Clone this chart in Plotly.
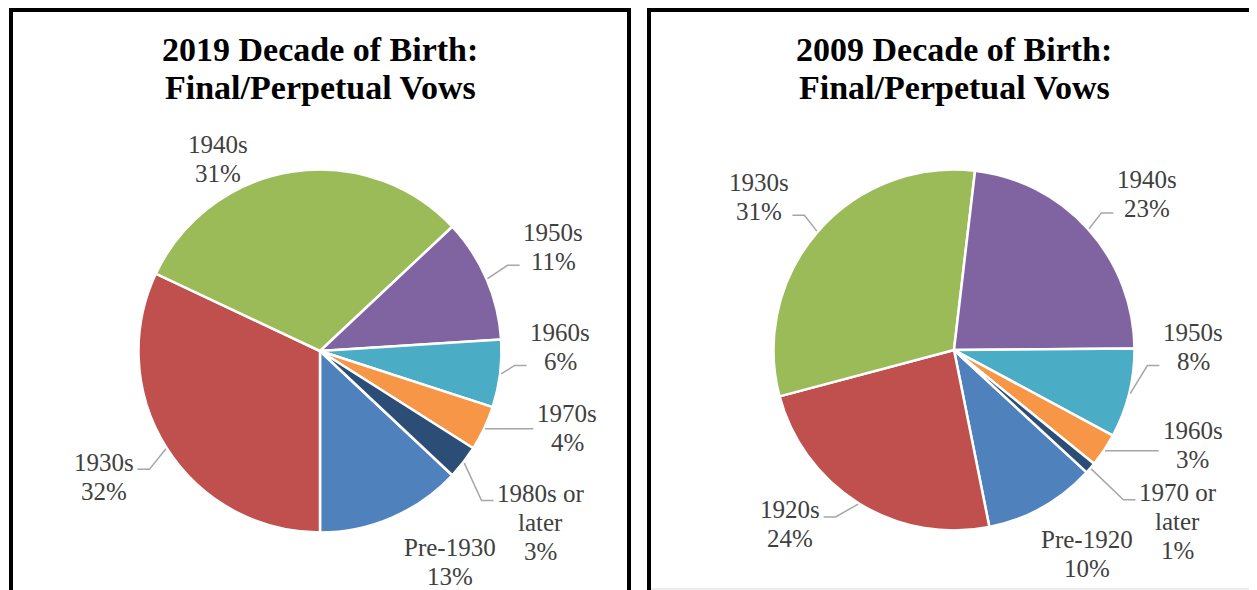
import math
import plotly.graph_objects as go

W, H = 1257, 590
OFF = 8  # page body margin of the written html

# ---------------- data ----------------
labels_2019 = ["Pre-1930", "1930s", "1940s", "1950s", "1960s", "1970s", "1980s or later"]
values_2019 = [13, 32, 31, 11, 6, 4, 3]

labels_2009 = ["Pre-1920", "1920s", "1930s", "1940s", "1950s", "1960s", "1970 or later"]
values_2009 = [10, 24, 31, 23, 8, 3, 1]

title_2019 = ["2019 Decade of Birth:", "Final/Perpetual Vows"]
title_2009 = ["2009 Decade of Birth:", "Final/Perpetual Vows"]

# ---------------- styles / layout ----------------
colors = ["#4F81BD", "#C0504D", "#9BBB59", "#8064A2", "#4BACC6", "#F79646", "#2C4D75"]
SERIF = "Liberation Serif, Times New Roman, serif"
LABEL_COLOR = "#404040"
LEADER_COLOR = "#A6A6A6"
LABEL_SIZE = 25
LABEL_LINE = 29
TITLE_SIZE = 34
TITLE_LINE = 38

# approximate glyph advance widths (em/1000) of the serif font, for centring lines
GLYPH_W = {c: 500 for c in "0123456789"}
GLYPH_W.update({"s": 389, "o": 500, "r": 333, "l": 278, "a": 444, "t": 278,
                "e": 444, "%": 833, "P": 556, "-": 333, " ": 250})

# pie geometry in pixels (center x, center y, radius)
pies = [
    dict(labels=labels_2019, values=values_2019, title=title_2019,
         cx=320, cy=351, r=181.5, rotation=133.2,
         # per label: angle shift from slice middle (deg), radius factor, anchor side, leader line
         lab=[(-8.2, 1.365, "center", False),
              (-1.6, 1.24, "right", True),
              (-18.9, 1.20, "center", False),
              (-3.7, 1.26, "left", True),
              (-8.3, 1.16, "left", True),
              (-5.7, 1.27, "left", True),
              (6.2, 1.36, "left", True)]),
    dict(labels=labels_2009, values=values_2009, title=title_2009,
         cx=954, cy=350, r=180.5, rotation=132.7,
         lab=[(-3.7, 1.35, "center", False),
              (5.7, 1.22, "right", True),
              (1.9, 1.25, "right", True),
              (-1.7, 1.25, "left", True),
              (-14.7, 1.16, "left", True),
              (-9.3, 1.27, "left", True),
              (1.9, 1.40, "left", True)]),
]


def px(x):
    return (x - OFF) / W


def py(y):
    return 1 - (y - OFF) / H


def text_width(s, size):
    return sum(GLYPH_W.get(c, 500) for c in s) / 1000 * size


def label_lines(label, pct):
    if " or later" in label:
        return [label.replace(" later", ""), "later", pct]
    return [label, pct]


fig = go.Figure()
annotations = []
shapes = []

for p in pies:
    cx, cy, r = p["cx"], p["cy"], p["r"]
    fig.add_trace(go.Pie(
        labels=p["labels"], values=p["values"],
        sort=False, direction="clockwise", rotation=p["rotation"],
        marker=dict(colors=colors, line=dict(color="white", width=2.5)),
        textinfo="none", hoverinfo="label+percent",
        domain=dict(x=[px(cx - r), px(cx + r)], y=[py(cy + r), py(cy - r)]),
        showlegend=False,
    ))

    total = sum(p["values"])
    ang = p["rotation"]
    for lab, val, (dshift, rf, side, line) in zip(p["labels"], p["values"], p["lab"]):
        span = val / total * 360
        mid = ang + span / 2
        ang += span
        a = math.radians(mid + dshift)
        ax = cx + rf * r * math.sin(a)
        ay = cy - rf * r * math.cos(a)
        pct = f"{round(val / total * 100)}%"
        lines = label_lines(lab, pct)
        bw = max(text_width(s, LABEL_SIZE) for s in lines)
        if side == "left":
            tx = ax + bw / 2
        elif side == "right":
            tx = ax - bw / 2
        else:
            tx = ax
        n = len(lines)
        line_ys = [ay + (i - (n - 1) / 2) * LABEL_LINE for i in range(n)]
        for s, yy in zip(lines, line_ys):
            annotations.append(dict(
                x=px(tx), y=py(yy),
                xref="paper", yref="paper",
                text=s, showarrow=False,
                xanchor="center", yanchor="middle", align="center",
                font=dict(family=SERIF, size=LABEL_SIZE, color=LABEL_COLOR),
            ))
        if line:
            am = math.radians(mid)
            sx = cx + (r + 1) * math.sin(am)
            sy = cy - (r + 1) * math.cos(am)
            ly = min(max(sy, line_ys[0] + 7), line_ys[-1] + 4)
            sgn = -1 if side == "left" else 1
            ex = ax + sgn * 4
            bx = ax + sgn * 16
            shapes.append(dict(
                type="path", xref="paper", yref="paper",
                path=f"M {px(sx)},{py(sy)} L {px(bx)},{py(ly)} L {px(ex)},{py(ly)}",
                line=dict(color=LEADER_COLOR, width=1.5),
            ))

    # title (two lines)
    for i, t in enumerate(p["title"]):
        annotations.append(dict(
            x=px(cx), y=py(49 + TITLE_LINE * i), xref="paper", yref="paper",
            text=f"<b>{t}</b>", showarrow=False,
            xanchor="center", yanchor="middle",
            font=dict(family=SERIF, size=TITLE_SIZE, color="black"),
        ))

# panel borders
shapes.append(dict(type="rect", xref="paper", yref="paper",
                   x0=px(11), x1=px(629), y0=py(640), y1=py(10),
                   line=dict(color="black", width=4)))
shapes.append(dict(type="rect", xref="paper", yref="paper",
                   x0=px(649), x1=px(1300), y0=py(640), y1=py(10),
                   line=dict(color="black", width=4)))
shapes.append(dict(type="line", xref="paper", yref="paper",
                   x0=px(651), x1=px(1265), y0=py(589), y1=py(589),
                   line=dict(color="#D9D9D9", width=1)))

fig.update_layout(
    width=W, height=H,
    margin=dict(l=0, r=0, t=0, b=0),
    paper_bgcolor="white", plot_bgcolor="white",
    annotations=annotations, shapes=shapes,
    showlegend=False,
)

fig.write_html("out.html")
